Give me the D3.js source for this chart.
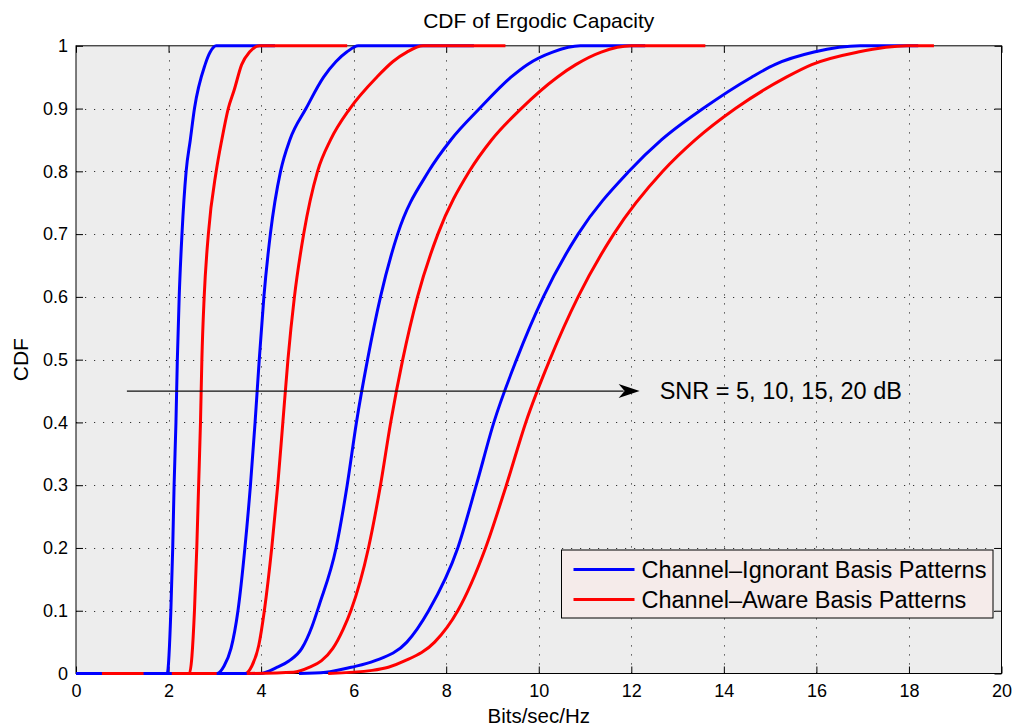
<!DOCTYPE html>
<html>
<head>
<meta charset="utf-8">
<script src="https://cdn.jsdelivr.net/npm/d3@7"></script>
<style>
  body { margin: 0; background: #fff; }
  svg { display: block; font-family: "Liberation Sans", Arial, Helvetica, sans-serif; }
</style>
</head>
<body>
<div id="chart"></div>
<script>
// axis ticks
const xTicks = [0, 2, 4, 6, 8, 10, 12, 14, 16, 18, 20];
const yTicks = [0, 0.1, 0.2, 0.3, 0.4, 0.5, 0.6, 0.7, 0.8, 0.9, 1];

const seriesNames = ["Channel\u2013Ignorant Basis Patterns", "Channel\u2013Aware Basis Patterns"];
const snrLevels = [5, 10, 15, 20];

// CDF points [bits/sec/Hz, cdf]
const ignorant5 = [[0, 0], [1.97, 0], [2.05, 0.1], [2.09, 0.2], [2.12, 0.3], [2.16, 0.4], [2.19, 0.5], [2.23, 0.6],
    [2.29, 0.7], [2.38, 0.8], [2.47, 0.85], [2.56, 0.9], [2.79, 0.97], [2.9, 0.99], [3.03, 1], [4.3, 1]];
const aware5 = [[0.56, 0], [2.45, 0], [2.56, 0.1], [2.61, 0.2], [2.65, 0.3], [2.69, 0.4], [2.72, 0.5], [2.77, 0.6],
    [2.86, 0.7], [3.03, 0.8], [3.15, 0.85], [3.29, 0.9], [3.42, 0.93], [3.58, 0.97], [3.75, 0.99], [3.97, 1], [5.86, 1]];
const ignorant10 = [[1.46, 0], [3.05, 0], [3.2, 0.012], [3.35, 0.04], [3.5, 0.1], [3.65, 0.2], [3.77, 0.3], [3.87, 0.4],
    [3.96, 0.5], [4.06, 0.6], [4.2, 0.7], [4.42, 0.8], [4.62, 0.85], [4.97, 0.9], [5.35, 0.95], [5.62, 0.975],
    [5.85, 0.99], [6.1, 1], [8.6, 1]];
const aware10 = [[2.07, 0], [3.66, 0], [3.8, 0.012], [3.95, 0.045], [4.07, 0.1], [4.23, 0.2], [4.36, 0.3], [4.47, 0.4],
    [4.58, 0.5], [4.72, 0.6], [4.92, 0.7], [5.22, 0.8], [5.5, 0.85], [5.92, 0.9], [6.5, 0.95], [6.85, 0.975],
    [7.15, 0.99], [7.5, 1], [9.28, 1]];
const ignorant15 = [[3.04, 0], [3.98, 0], [4.35, 0.01], [4.6, 0.02], [4.88, 0.04], [5.1, 0.075], [5.26, 0.11],
    [5.62, 0.2], [5.86, 0.3], [6.06, 0.4], [6.3, 0.5], [6.58, 0.6], [6.95, 0.7], [7.62, 0.8], [8.1, 0.85],
    [8.72, 0.9], [9.4, 0.95], [9.75, 0.97], [10.3, 0.99], [10.9, 1], [12.3, 1]];
const aware15 = [[3.69, 0], [4.7, 0.002], [5.05, 0.01], [5.3, 0.02], [5.55, 0.04], [5.77, 0.07], [5.94, 0.1],
    [6.32, 0.2], [6.58, 0.3], [6.8, 0.4], [7.06, 0.5], [7.38, 0.6], [7.82, 0.7], [8.5, 0.8], [8.98, 0.85],
    [9.62, 0.9], [10.4, 0.95], [10.8, 0.97], [11.35, 0.99], [12.0, 1], [13.6, 1]];
const ignorant20 = [[4.82, 0], [5.4, 0.002], [5.95, 0.01], [6.45, 0.02], [7.15, 0.05], [7.62, 0.1], [8.25, 0.2],
    [8.65, 0.3], [9.03, 0.4], [9.52, 0.5], [10.1, 0.6], [10.85, 0.7], [11.95, 0.8], [12.65, 0.85], [13.55, 0.9],
    [14.6, 0.95], [15.1, 0.97], [15.95, 0.99], [16.95, 1], [18.2, 1]];
const aware20 = [[5.45, 0], [6.4, 0.005], [6.75, 0.01], [7.1, 0.02], [7.75, 0.05], [8.25, 0.1], [8.85, 0.2],
    [9.3, 0.3], [9.72, 0.4], [10.24, 0.5], [10.85, 0.6], [11.62, 0.7], [12.68, 0.8], [13.38, 0.85], [14.25, 0.9],
    [15.35, 0.95], [15.9, 0.97], [16.9, 0.99], [17.96, 1], [18.54, 1]];

// annotation arrow, in data units
const arrowFrom = [1.1, 0.45];
const arrowTo = [12.18, 0.45];
const arrowLabel = "SNR = 5, 10, 15, 20 dB";

const width = 1014, height = 728;
const margin = { top: 45.8, right: 12.5, bottom: 54.5, left: 76 };

const svg = d3.select("#chart").append("svg")
    .attr("width", width)
    .attr("height", height);

const x = d3.scaleLinear().domain([0, 20]).range([margin.left, width - margin.right]);
const y = d3.scaleLinear().domain([0, 1]).range([height - margin.bottom, margin.top]);

const x0 = x(0), x1 = x(20), y0 = y(0), y1 = y(1);

// plot background
svg.append("rect")
    .attr("x", x0).attr("y", y1)
    .attr("width", x1 - x0).attr("height", y0 - y1)
    .attr("fill", "#ededed");

// dotted grid
const grid = svg.append("g").attr("stroke", "#333").attr("stroke-width", 1).attr("stroke-dasharray", "1.2,7.8");
grid.selectAll(".gx").data(xTicks.slice(1, -1)).join("line")
    .attr("x1", d => Math.round(x(d)) + 0.5).attr("x2", d => Math.round(x(d)) + 0.5)
    .attr("y1", y0).attr("y2", y1);
grid.selectAll(".gy").data(yTicks.slice(1, -1)).join("line")
    .attr("y1", d => Math.round(y(d)) + 0.5).attr("y2", d => Math.round(y(d)) + 0.5)
    .attr("x1", x0).attr("x2", x1);

// axes, ticks pointing inward
const fmtY = d => d3.format(".1~f")(d);
svg.append("g")
    .attr("transform", `translate(0,${y0})`)
    .call(d3.axisBottom(x).tickValues(xTicks).tickSizeInner(-7).tickSizeOuter(0).tickPadding(10.5))
    .call(g => g.select(".domain").remove());
svg.append("g")
    .attr("transform", `translate(${x0},0)`)
    .call(d3.axisLeft(y).tickValues(yTicks).tickFormat(fmtY).tickSizeInner(-7).tickSizeOuter(0).tickPadding(8))
    .call(g => g.select(".domain").remove());
svg.append("g")
    .attr("transform", `translate(0,${y1})`)
    .call(d3.axisTop(x).tickValues(xTicks).tickFormat("").tickSizeInner(-7).tickSizeOuter(0))
    .call(g => g.select(".domain").remove());
svg.append("g")
    .attr("transform", `translate(${x1},0)`)
    .call(d3.axisRight(y).tickValues(yTicks).tickFormat("").tickSizeInner(-7).tickSizeOuter(0))
    .call(g => g.select(".domain").remove());

svg.selectAll(".tick text")
    .attr("font-family", "Liberation Sans, Arial, sans-serif")
    .attr("font-size", 18)
    .attr("fill", "#000");
svg.selectAll(".tick line").attr("stroke", "#000");

// frame
svg.append("rect")
    .attr("x", x0).attr("y", y1)
    .attr("width", x1 - x0).attr("height", y0 - y1)
    .attr("fill", "none").attr("stroke", "#000").attr("stroke-width", 1);

// curves
const colors = { ignorant: "#0000ff", aware: "#ff0000" };
const curves = [
    { type: "ignorant", pts: ignorant5 }, { type: "aware", pts: aware5 },
    { type: "ignorant", pts: ignorant10 }, { type: "aware", pts: aware10 },
    { type: "ignorant", pts: ignorant15 }, { type: "aware", pts: aware15 },
    { type: "ignorant", pts: ignorant20 }, { type: "aware", pts: aware20 }
];
const line = d3.line()
    .x(d => x(d[0]))
    .y(d => y(d[1]))
    .curve(d3.curveMonotoneX);

svg.append("g").selectAll("path").data(curves).join("path")
    .attr("d", d => line(d.pts))
    .attr("fill", "none")
    .attr("stroke", d => colors[d.type])
    .attr("stroke-width", 3)
    .attr("stroke-linejoin", "round");

// arrow annotation
const ax0 = x(arrowFrom[0]), ax1 = x(arrowTo[0]), ay = y(arrowFrom[1]);
svg.append("line")
    .attr("x1", ax0).attr("x2", ax1 - 16).attr("y1", ay).attr("y2", ay)
    .attr("stroke", "#111").attr("stroke-width", 1.2);
svg.append("path")
    .attr("d", `M${ax1},${ay} L${ax1 - 21},${ay - 7} L${ax1 - 15},${ay} L${ax1 - 21},${ay + 7} Z`)
    .attr("fill", "#000");
svg.append("text")
    .attr("x", ax1 + 20).attr("y", ay + 8)
    .attr("font-size", 23.5)
    .text(arrowLabel);

// legend
const lg = svg.append("g");
const lgX = 561.5, lgY = 550, lgW = 431.5, lgH = 68;
lg.append("rect")
    .attr("x", lgX).attr("y", lgY).attr("width", lgW).attr("height", lgH)
    .attr("fill", "#f5ebea").attr("stroke", "#000").attr("stroke-width", 1);
const lgRows = [{ type: "ignorant", name: seriesNames[0] }, { type: "aware", name: seriesNames[1] }];
lgRows.forEach((r, i) => {
    const cy = lgY + 19.5 + i * 30;
    lg.append("line")
        .attr("x1", lgX + 12).attr("x2", lgX + 73).attr("y1", cy).attr("y2", cy)
        .attr("stroke", colors[r.type]).attr("stroke-width", 3);
    lg.append("text")
        .attr("x", lgX + 80).attr("y", cy + 8)
        .attr("font-size", 23.5)
        .text(r.name);
});

// titles
svg.append("text")
    .attr("x", (x0 + x1) / 2).attr("y", 27.5)
    .attr("text-anchor", "middle")
    .attr("font-size", 21)
    .text("CDF of Ergodic Capacity");
svg.append("text")
    .attr("x", (x0 + x1) / 2).attr("y", 722.5)
    .attr("text-anchor", "middle")
    .attr("font-size", 20.5)
    .text("Bits/sec/Hz");
svg.append("text")
    .attr("transform", `translate(28,${(y0 + y1) / 2}) rotate(-90)`)
    .attr("text-anchor", "middle")
    .attr("font-size", 21)
    .text("CDF");
</script>
</body>
</html>
